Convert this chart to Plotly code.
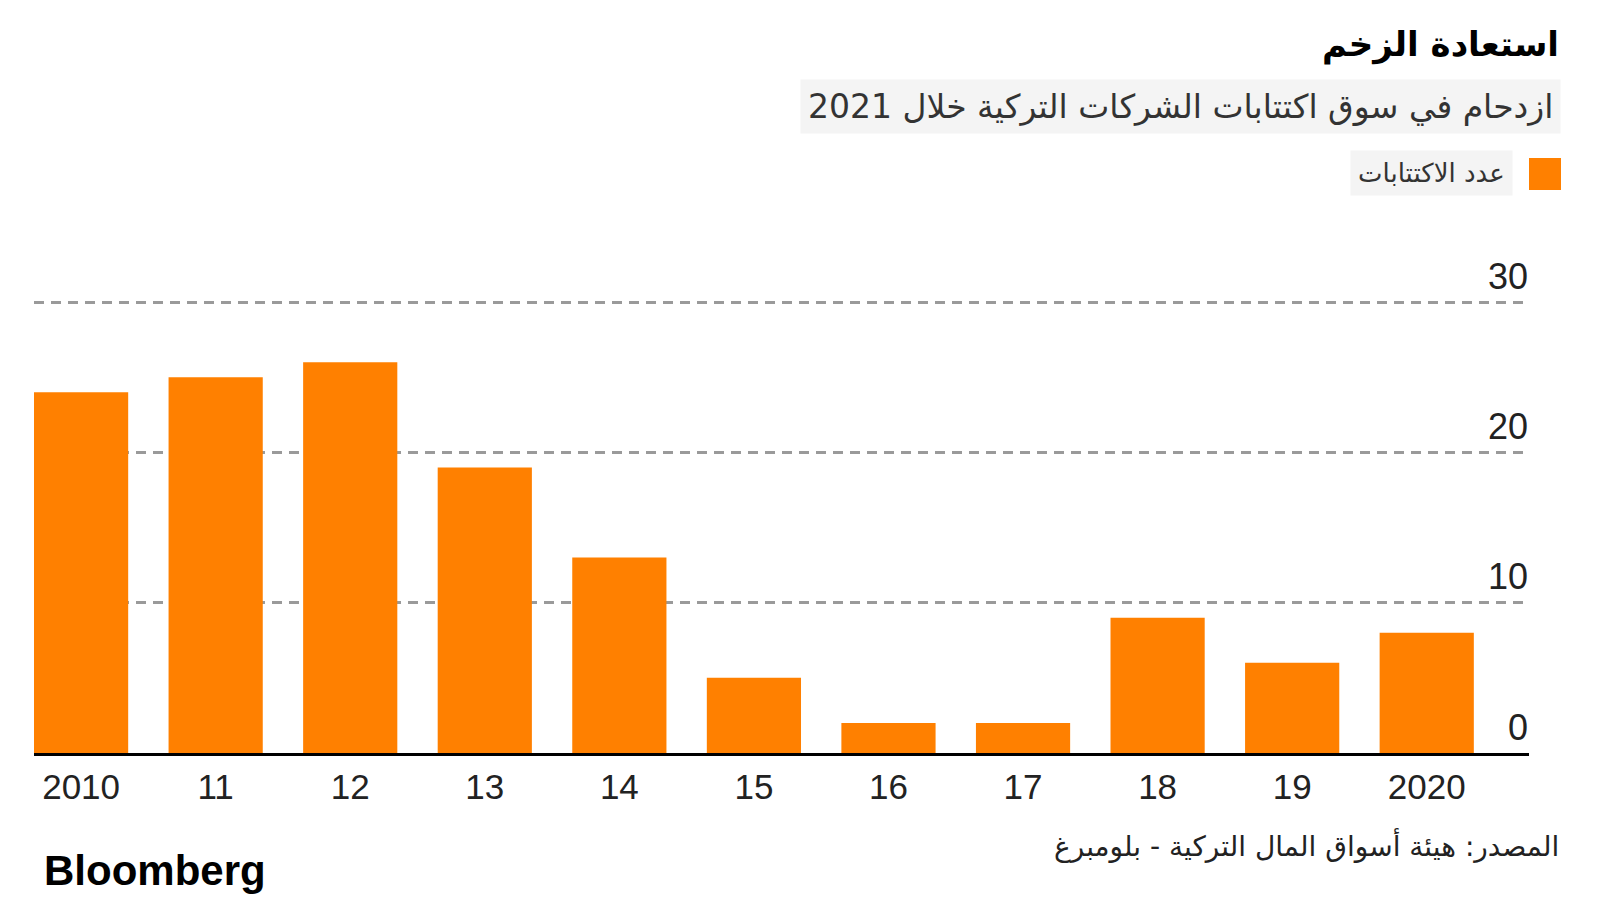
import plotly.graph_objects as go

# ---- data ----
years = [2010, 2011, 2012, 2013, 2014, 2015, 2016, 2017, 2018, 2019, 2020]
tick_labels = ["2010", "11", "12", "13", "14", "15", "16", "17", "18", "19", "2020"]
ipo_counts = [24, 25, 26, 19, 13, 5, 2, 2, 9, 6, 8]
y_ticks = [0, 10, 20, 30]
y_tick_labels = ["0", "10", "20", "30"]

title_text = "استعادة الزخم"
subtitle_text = "ازدحام في سوق اكتتابات الشركات التركية خلال 2021"
legend_text = "عدد الاكتتابات"
source_text = "المصدر: هيئة أسواق المال التركية - بلومبرغ"

ORANGE = "#FF8000"
W, H = 1600, 900
L, R, T, B = 34, 71, 257, 147
PW, PH = W - L - R, H - T - B


def px(x):
    return (x - L) / PW


def py(y):
    return (H - B - y) / PH


AR_FONT = "DejaVu Sans"
NUM_FONT = "Liberation Sans"

fig = go.Figure()
fig.add_trace(go.Bar(
    x=years, y=ipo_counts, marker=dict(color=ORANGE, line=dict(width=0)),
    width=0.70, showlegend=False, hoverinfo="skip",
))

fig.update_layout(
    width=W, height=H,
    margin=dict(l=L, r=R, t=T, b=B),
    paper_bgcolor="white", plot_bgcolor="white",
    showlegend=False,
    xaxis=dict(
        range=[2009.65, 2020.76], tickvals=years, ticktext=tick_labels,
        showgrid=False, zeroline=False, showline=True, linecolor="#000000", linewidth=3,
        ticks="", tickfont=dict(family=NUM_FONT, size=35, color="#222222"),
        ticklabelstandoff=1,
    ),
    yaxis=dict(
        range=[0, 33], tickvals=y_ticks, showticklabels=False,
        showgrid=True, gridcolor="#9a9a9a", gridwidth=2.5, griddash="10px,7px",
        zeroline=False, showline=False, ticks="",
    ),
)

ann = []
for v, lab in zip(y_ticks, y_tick_labels):
    ann.append(dict(text=lab, x=1, y=v, xref="paper", yref="y",
                    xanchor="right", yanchor="middle", yshift=26, showarrow=False,
                    borderpad=0,
                    font=dict(family=NUM_FONT, size=36, color="#222222")))
ann.append(dict(text="<b>" + title_text + "</b>", x=px(1561), y=py(44), xref="paper", yref="paper",
                xanchor="right", yanchor="middle", showarrow=False,
                font=dict(family=AR_FONT, size=34, color="#000000")))
ann.append(dict(text=subtitle_text, x=px(1561), y=py(107), xref="paper", yref="paper",
                xanchor="right", yanchor="middle", showarrow=False, bgcolor="#f4f4f4", borderpad=7,
                font=dict(family=AR_FONT, size=33, color="#333333")))
ann.append(dict(text=legend_text, x=px(1513), y=py(173), xref="paper", yref="paper",
                xanchor="right", yanchor="middle", showarrow=False, bgcolor="#f4f4f4", borderpad=7,
                font=dict(family=AR_FONT, size=26, color="#333333")))
ann.append(dict(text=source_text, x=px(1561), y=py(845), xref="paper", yref="paper",
                xanchor="right", yanchor="middle", showarrow=False,
                font=dict(family=AR_FONT, size=28, color="#222222")))
ann.append(dict(text="<b>Bloomberg</b>", x=px(42), y=py(870), xref="paper", yref="paper",
                xanchor="left", yanchor="middle", showarrow=False,
                font=dict(family=NUM_FONT, size=42, color="#000000")))
fig.update_layout(annotations=ann)

fig.add_shape(type="rect", xref="paper", yref="paper",
              x0=px(1529), x1=px(1561), y0=py(158), y1=py(190),
              fillcolor=ORANGE, line=dict(width=0))

fig.write_html("out.html")
